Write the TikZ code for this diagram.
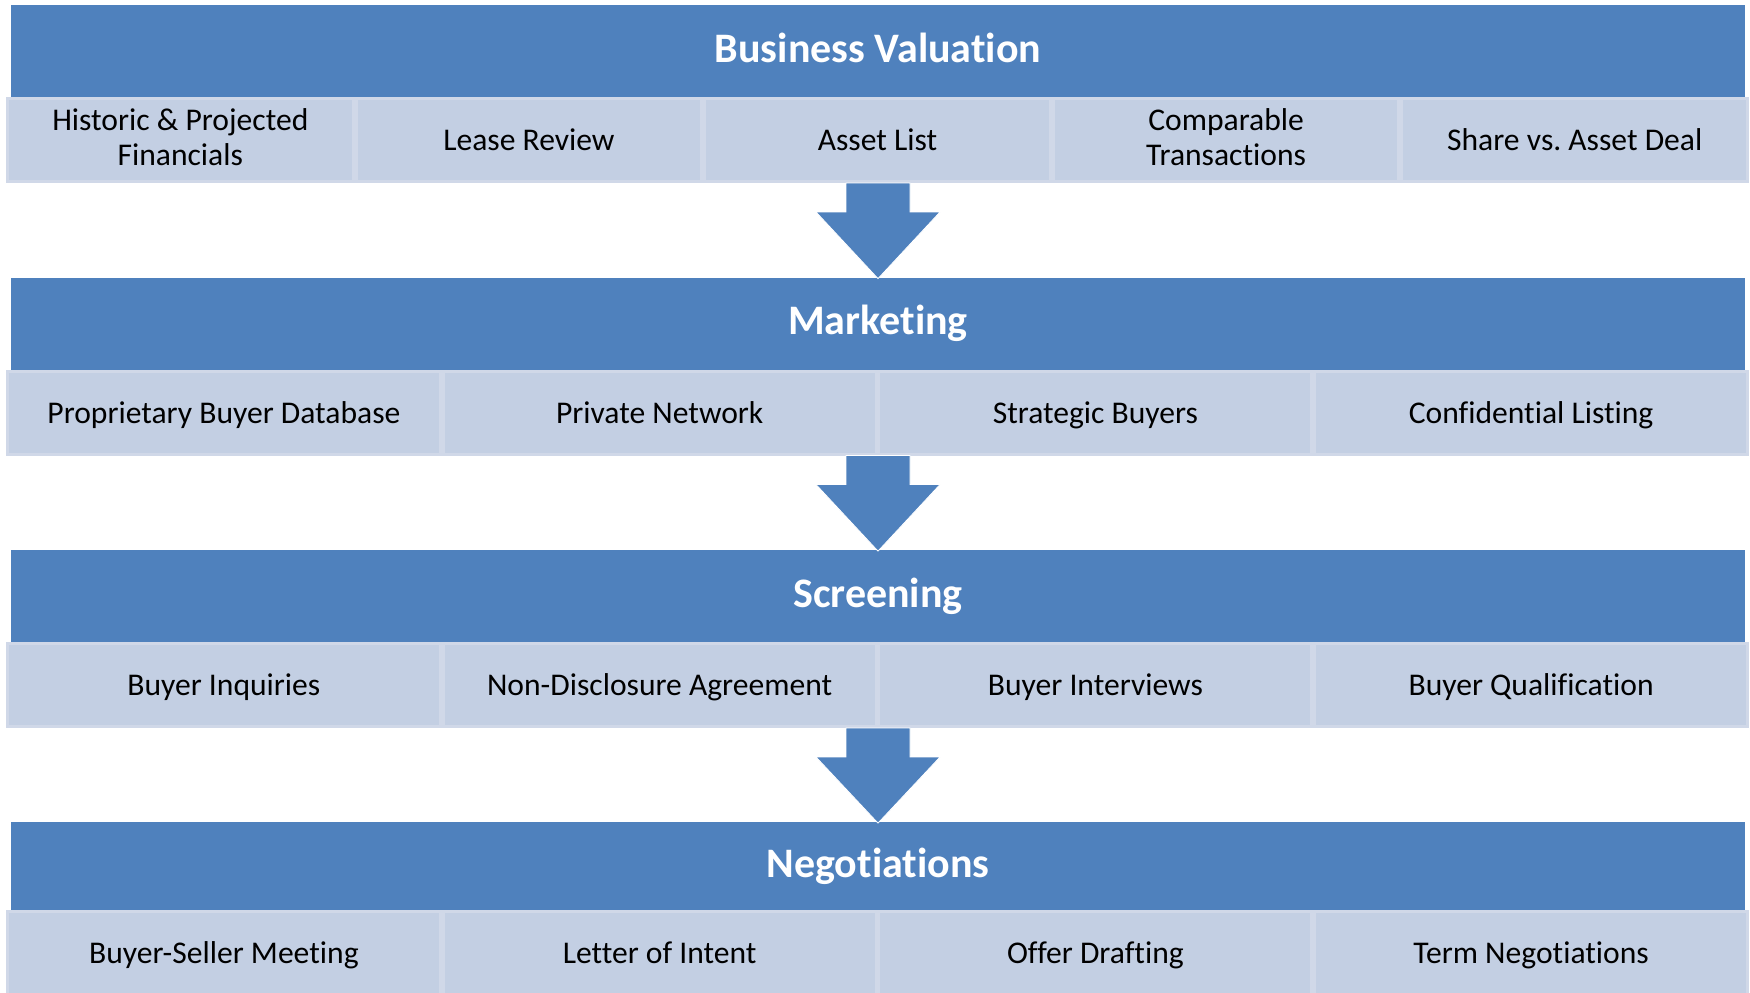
\documentclass[tikz,border=0pt]{standalone}
\usepackage{fontspec}
\setmainfont{Carlito}[Ligatures=NoCommon]
\usetikzlibrary{calc}
\definecolor{hblue}{HTML}{4F81BD}
\definecolor{cfill}{HTML}{C3CFE3}
\definecolor{cline}{HTML}{D0D8E8}
\newcommand\cstrut{\rule[-2.7pt]{0pt}{16pt}}
\newcommand\hstrut{\rule[-6.3pt]{0pt}{24pt}}
\frenchspacing
\begin{document}
\begin{tikzpicture}[x=0.5pt,y=-0.5pt,
  head/.style={fill=hblue, text=white, font=\fontsize{21}{25}\selectfont\bfseries,
    minimum width=867pt, inner sep=0pt, execute at begin node={\hstrut}},
  cell/.style={fill=cfill, draw=cline, line width=1.5pt, text=black,
    font=\fontsize{15.8}{17.3}\selectfont, align=center, inner sep=0pt,
    minimum height=41.5pt, execute at begin node={\cstrut}},
  cellv/.style={cell, minimum width=172.8pt},
  celliv/.style={cell, minimum width=216.4pt},
  arr/.style={fill=hblue, draw=white, line width=0.4pt}]
\useasboundingbox (0,0) rectangle (1750,992);
\clip (0,0) rectangle (1750,992);

% headers
\node[head, minimum height=46pt] (h1) at (878,51) {Business Valuation};
\node[head, minimum height=46pt] (h2) at (878,323.5) {Marketing};
\node[head, minimum height=46pt] (h3) at (878,596) {Screening};
\node[head, minimum height=44pt] (h4) at (878,866) {Negotiations};

% row 1 (five cells)
\foreach \i/\t in {1/{Historic \& Projected\\\cstrut Financials},2/{Lease Review},3/{Asset List},4/{Comparable\\\cstrut Transactions},5/{Share vs. Asset Deal}}
  \node[cellv] (a\i) at ({6+348.6*(\i-0.5)},140) {\t};

% row 2
\foreach \i/\t in {1/{Proprietary Buyer Database},2/{Private Network},3/{Strategic Buyers},4/{Confidential Listing}}
  \node[celliv] (b\i) at ({6+435.75*(\i-0.5)},412.5) {\t};

% row 3
\foreach \i/\t in {1/{Buyer Inquiries},2/{Non-Disclosure Agreement},3/{Buyer Interviews},4/{Buyer Qualification}}
  \node[celliv] (c\i) at ({6+435.75*(\i-0.5)},685) {\t};

% row 4
\foreach \i/\t in {1/{Buyer-Seller Meeting},2/{Letter of Intent},3/{Offer Drafting},4/{Term Negotiations}}
  \node[celliv] (d\i) at ({6+435.75*(\i-0.5)},953) {\t};

% arrow start points (bottoms of rows)
\coordinate (e1) at (878,183);
\coordinate (e2) at (878,455.5);
\coordinate (e3) at (878,728);

\foreach \s/\h in {e1/h2,e2/h3,e3/h4}{
  \filldraw[arr] ($(\s)+(-32,0)$) -- ($(\s)+(32,0)$) -- ($(\s)+(32,29)$)
    -- ($(\s)+(62,29)$) -- ($(\h.north)+(0,1.5)$) -- ($(\s)+(-62,29)$)
    -- ($(\s)+(-32,29)$) -- cycle;
}
\end{tikzpicture}
\end{document}
